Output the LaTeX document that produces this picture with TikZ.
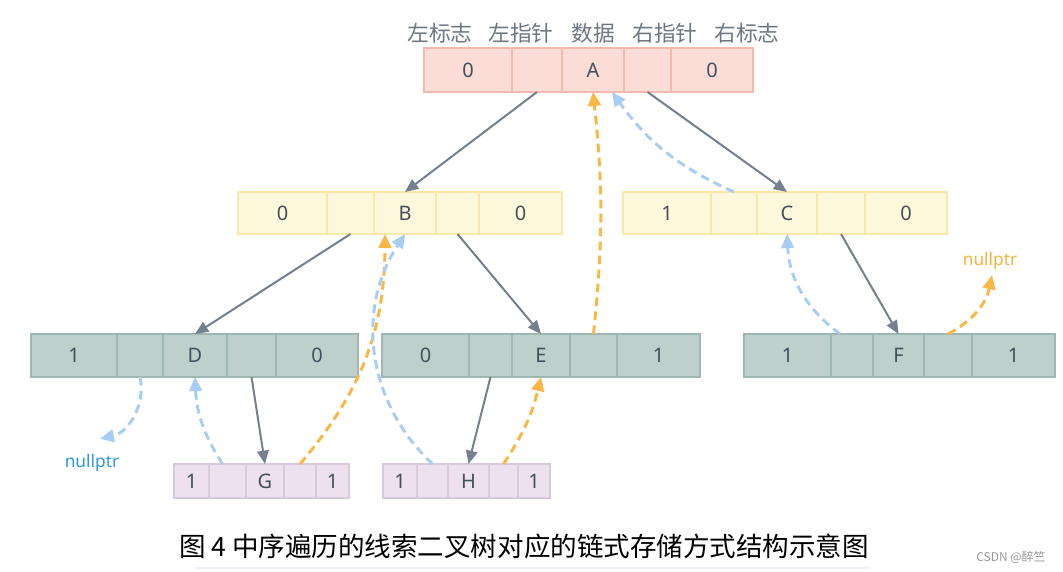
\documentclass[tikz,border=0pt]{standalone}
\usepackage{fontspec}
\setmainfont{Noto Sans}
\newfontfamily\cjk{Noto Sans CJK SC}
\usetikzlibrary{arrows.meta,calc}
\definecolor{txt}{HTML}{454F5C}
\definecolor{labgray}{HTML}{6E7781}
\definecolor{aFill}{HTML}{FBDCD6}
\definecolor{aLine}{HTML}{F2B9AE}
\definecolor{bFill}{HTML}{FDF7DC}
\definecolor{bLine}{HTML}{F9E9A8}
\definecolor{dFill}{HTML}{BFCFCB}
\definecolor{dLine}{HTML}{9EB7B2}
\definecolor{gFill}{HTML}{EDE1EF}
\definecolor{gLine}{HTML}{DAC8DF}
\definecolor{treegray}{HTML}{75808C}
\definecolor{thrOrange}{HTML}{F9B845}
\definecolor{thrBlue}{HTML}{A8CDF2}
\definecolor{nullBlue}{HTML}{3197E8}
\definecolor{nullOrange}{HTML}{F5B43D}
\definecolor{wm}{HTML}{9A9A9A}
\definecolor{faint}{HTML}{ECEFF6}
\newcommand{\rcell}[7]{%
  \pgfmathsetmacro\rcw{(#4-#3)*0.75}%
  \pgfmathsetmacro\rch{(#6-#5)*0.75}%
  \node[cellbase,#2,minimum width=\rcw pt,minimum height=\rch pt] (#1) at ({(#3+#4)/2},{(#5+#6)/2}) {#7};}
\tikzset{
  cellbase/.style={rectangle,inner sep=0pt,outer sep=0pt,line width=1.3pt,text=txt,
    font=\fontsize{15pt}{18pt}\selectfont},
  recA/.style={draw=aLine,fill=aFill},
  recB/.style={draw=bLine,fill=bFill},
  recD/.style={draw=dLine,fill=dFill},
  recG/.style={draw=gLine,fill=gFill},
  headlab/.style={text=labgray,font=\cjk\fontsize{16.3pt}{19pt}\selectfont,inner sep=0pt},
  tree/.style={draw=treegray,line width=1.5pt,-{Triangle[length=10pt,width=8.5pt]}},
  thr/.style={line width=2.2pt,dash pattern=on 6.5pt off 4pt,-{Triangle[length=10.5pt,width=9.5pt]}},
  succ/.style={thr,draw=thrOrange,color=thrOrange},
  pred/.style={thr,draw=thrBlue,color=thrBlue},
  nulllab/.style={font=\fontsize{13pt}{15pt}\selectfont,inner sep=1pt},
}
\begin{document}
\begin{tikzpicture}[x=0.75pt,y=-0.75pt]
\useasboundingbox[fill=white] (0,0) rectangle (1063,571);
% header labels
\node[headlab] (lab1) at (440,33) {左标志};
\node[headlab] (lab2) at (521,33) {左指针};
\node[headlab] (lab3) at (593,33) {数据};
\node[headlab] (lab4) at (665,33) {右指针};
\node[headlab] (lab5) at (747,33) {右标志};
% records
\foreach \i/\xa/\xb/\t in {1/424/512/0,2/512/562/{},3/562/624/A,4/624/671/{},5/671/753/0}
  {\rcell{A\i}{recA}{\xa}{\xb}{48}{92}{\t}}
\foreach \i/\xa/\xb/\t in {1/238/327/0,2/327/374/{},3/374/436/B,4/436/479/{},5/479/562/0}
  {\rcell{B\i}{recB}{\xa}{\xb}{192}{234}{\t}}
\foreach \i/\xa/\xb/\t in {1/623/711/1,2/711/757/{},3/757/817/C,4/817/865/{},5/865/947/0}
  {\rcell{C\i}{recB}{\xa}{\xb}{192}{234}{\t}}
\foreach \i/\xa/\xb/\t in {1/31/117/1,2/117/163/{},3/163/227/D,4/227/276/{},5/276/358/0}
  {\rcell{D\i}{recD}{\xa}{\xb}{334}{377}{\t}}
\foreach \i/\xa/\xb/\t in {1/382/469/0,2/469/512/{},3/512/570/E,4/570/617/{},5/617/700/1}
  {\rcell{E\i}{recD}{\xa}{\xb}{334}{377}{\t}}
\foreach \i/\xa/\xb/\t in {1/744/831/1,2/831/873/{},3/873/924/F,4/924/972/{},5/972/1055/1}
  {\rcell{F\i}{recD}{\xa}{\xb}{334}{377}{\t}}
\foreach \i/\xa/\xb/\t in {1/174/209/1,2/209/246/{},3/246/284/G,4/284/316/{},5/316/349/1}
  {\rcell{G\i}{recG}{\xa}{\xb}{464}{498}{\t}}
\foreach \i/\xa/\xb/\t in {1/383/417/1,2/417/448/{},3/448/489/H,4/489/518/{},5/518/550/1}
  {\rcell{H\i}{recG}{\xa}{\xb}{464}{498}{\t}}
% nullptr labels
\node[nulllab,text=nullBlue] (nullD) at (92,463) {nullptr};
\node[nulllab,text=nullOrange] (nullF) at (990,261) {nullptr};
% tree links
\draw[tree] (A2.south) -- (B3.north);
\draw[tree] (A4.south) -- (C3.north);
\draw[tree] (B2.south) -- (D3.north);
\draw[tree] (B4.south) -- (E3.north);
\draw[tree] (C4.south) -- (F3.north);
\draw[tree] (D4.south) -- (G3.north);
\draw[tree] (E2.south) -- (H3.north);
% threads
\draw[succ] (E4.north) to[bend right=6] (A3.south);
\draw[pred] (C2.north) to[bend left=15] ($(A3.south)+(19,0)$);
\draw[succ] (G4.north) to[bend right=20] ($(B3.south)+(-20,0)$);
\draw[pred] (H2.north) to[bend left=40] (B3.south);
\draw[pred] ($(G2.north)+(-5,0)$) to[bend left=15] (D3.south);
\draw[succ] (H4.north) to[bend right=10] (E3.south);
\draw[pred] (D2.south) to[bend left=45] ($(nullD.north)+(8,-14)$);
\draw[pred] ($(F2.north)+(-12,0)$) to[bend left=25] (C3.south);
\draw[succ] (F4.north) to[bend right=25] ($(nullF.south)+(2,4)$);
% caption
\node[inner sep=0pt,font=\cjk\fontsize{19.9pt}{24pt}\selectfont,text=black] (cap) at (524,546) {图 4 中序遍历的线索二叉树对应的链式存储方式结构示意图};
\draw[faint,line width=1pt] (195,568) -- (870,568);
\node[inner sep=0pt,font=\cjk\fontsize{9pt}{11pt}\selectfont,text=wm] (wmark) at (1011,557) {CSDN @醉竺};
\end{tikzpicture}
\end{document}
